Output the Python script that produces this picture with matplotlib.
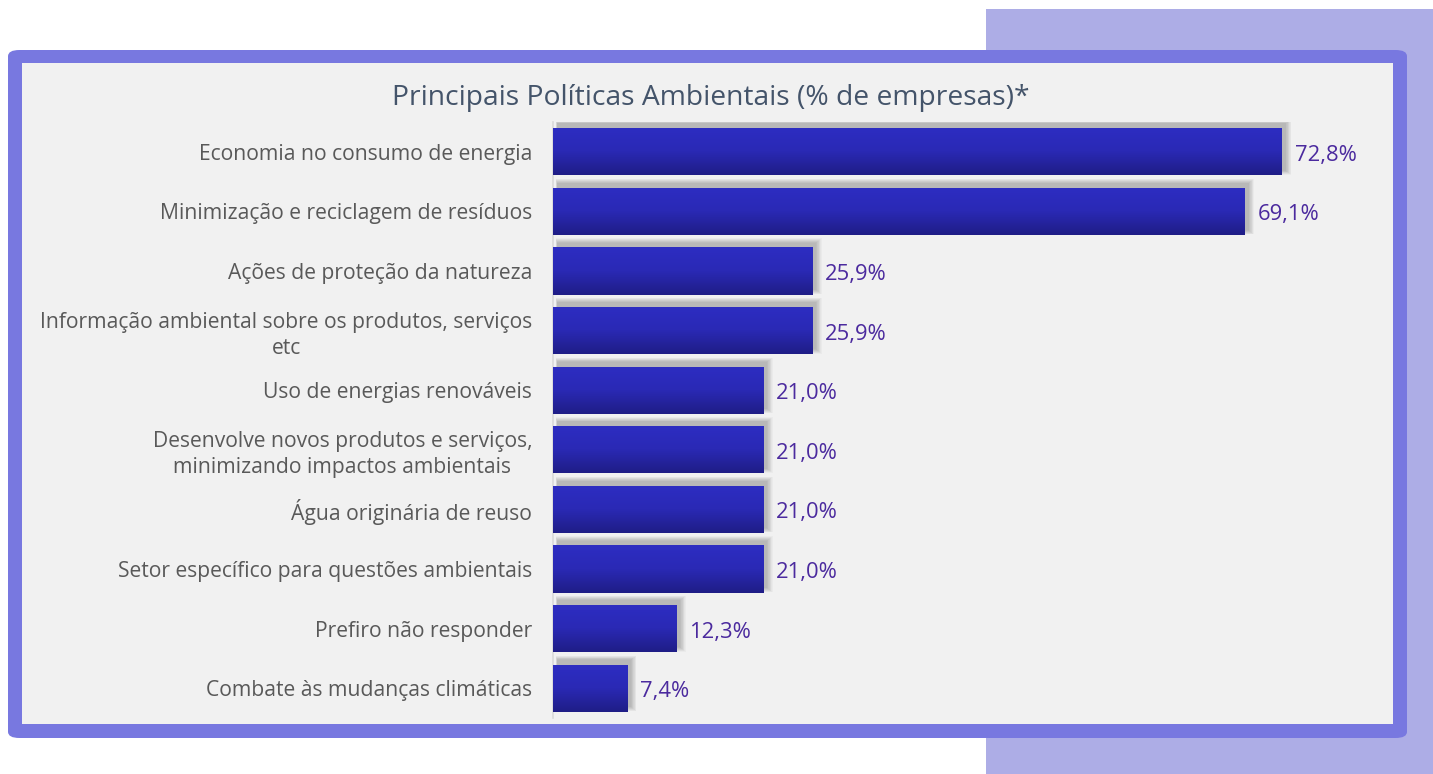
import matplotlib
matplotlib.use("Agg")
import matplotlib.pyplot as plt
import matplotlib.patches as patches
from matplotlib.colors import LinearSegmentedColormap
import numpy as np

W, H = 1433, 774

categories = [
  "Economia no consumo de energia",
  "Minimização e reciclagem de resíduos",
  "Ações de proteção da natureza",
  "Informação ambiental sobre os produtos, serviços\netc",
  "Uso de energias renováveis",
  "Desenvolve novos produtos e serviços,\nminimizando impactos ambientais",
  "Água originária de reuso",
  "Setor específico para questões ambientais",
  "Prefiro não responder",
  "Combate às mudanças climáticas",
]
values = [72.8, 69.1, 25.9, 25.9, 21.0, 21.0, 21.0, 21.0, 12.3, 7.4]
value_labels = ["72,8%", "69,1%", "25,9%", "25,9%", "21,0%", "21,0%", "21,0%", "21,0%", "12,3%", "7,4%"]
title = "Principais Políticas Ambientais (% de empresas)*"

plt.rcParams['font.family'] = ['Open Sans', 'DejaVu Sans']

fig = plt.figure(figsize=(W / 100, H / 100), dpi=100)
fig.patch.set_facecolor('white')

def px(x, y, w, h):
  # pixel box (top-left origin) -> figure fraction
  return [x / W, 1 - (y + h) / H, w / W, h / H]

# background decoration
b = px(986, 9, 447, 765)
fig.patches.append(patches.Rectangle((b[0], b[1]), b[2], b[3], transform=fig.transFigure,
                                     facecolor='#ADADE6', edgecolor='none', zorder=0))
b = px(8, 50, 1399, 688)
fig.patches.append(patches.FancyBboxPatch((b[0], b[1]), b[2], b[3], transform=fig.transFigure,
                                          boxstyle="round,pad=0,rounding_size=0.008",
                                          facecolor='#7878E0', edgecolor='none', zorder=1))
b = px(22, 63, 1371, 661)
fig.patches.append(patches.Rectangle((b[0], b[1]), b[2], b[3], transform=fig.transFigure,
                                     facecolor='#F1F1F1', edgecolor='none', zorder=2))

fig.text(711 / W, 1 - 98 / H, title, ha='center', va='center', fontsize=20.3, color='#44546A', zorder=5)

ax = fig.add_axes(px(553, 122, 840, 596))
ax.set_zorder(10)
ax.set_facecolor('none')
xmax = 840 / 10.01
n = len(categories)
ypos = np.arange(n)
bar_h = 0.79

# soft shadows (stacked translucent boxes, mostly above / right of the bar)
for k in range(10):
  a = 0.035
  pad_x = 0.06 * k
  pad_y = 0.008 * k
  for y, v in zip(ypos, values):
    ax.add_patch(patches.Rectangle((0.4 - pad_x * 0.2, y - bar_h / 2 - 0.08 - pad_y),
                                   v + pad_x * 1.2, bar_h + 2 * pad_y,
                                   facecolor='#444444', edgecolor='none', alpha=a, zorder=1))

bars = ax.barh(ypos, values, height=bar_h, color='#2626A8', zorder=2)

cmap = LinearSegmentedColormap.from_list('g', ['#2D2DC2', '#2A29B5', '#1F1D86'])
grad = np.linspace(0, 1, 64).reshape(-1, 1)
for bar in bars:
  x0, y0 = bar.get_x(), bar.get_y()
  w, h = bar.get_width(), bar.get_height()
  im = ax.imshow(grad, extent=(x0, x0 + w, y0 + h, y0), origin='upper', aspect='auto',
                 cmap=cmap, zorder=3, interpolation='bilinear')
  im.set_clip_path(bar)

for y, v, lab in zip(ypos, values, value_labels):
  ax.text(v + 1.3, y + 0.06, lab, ha='left', va='center', fontsize=15.8, color='#4B2A9E', zorder=4)

ax.set_xlim(0, xmax)
ax.set_ylim(n - 0.5, -0.5)
ax.set_yticks(ypos)
ax.set_yticklabels(categories, fontsize=15.2, color='#595959', multialignment='center',
                   linespacing=1.3)
ax.tick_params(axis='y', length=0, pad=15)
ax.set_xticks([])
for s in ['top', 'right', 'bottom']:
  ax.spines[s].set_visible(False)
ax.spines['left'].set_color('#D9D9D9')
ax.spines['left'].set_linewidth(1.2)

fig.savefig('out.png', dpi=100)
